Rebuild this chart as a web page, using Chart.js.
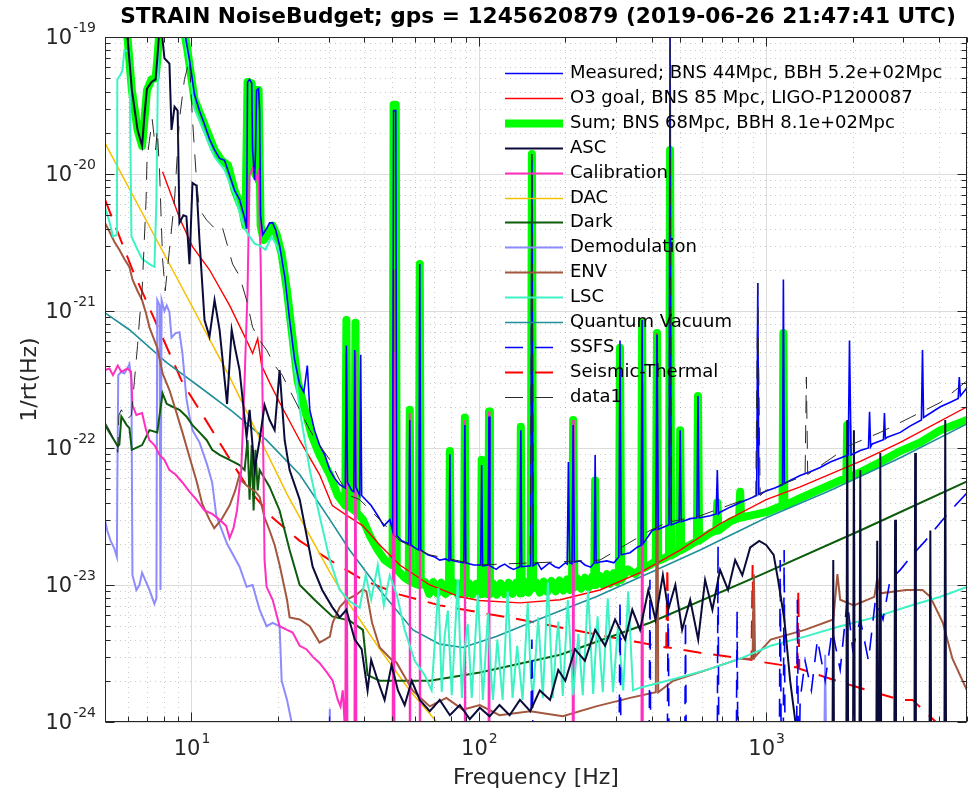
<!DOCTYPE html>
<html>
<head>
<meta charset="utf-8">
<title>STRAIN NoiseBudget</title>
<script src="https://cdn.jsdelivr.net/npm/chart.js@4.4.1/dist/chart.umd.min.js"></script>
<style>
  html, body { margin: 0; padding: 0; background: #fff; }
  canvas { display: block; }
</style>
</head>
<body>
<canvas id="noiseBudget" width="969" height="793"></canvas>
<script>
"use strict";

// axis decades that get a "10^n" label
var xTickExps = [1, 2, 3];
var yTickExps = [-24, -23, -22, -21, -20, -19];

// ---- strain ASD traces, 1/rt(Hz) ----
var measuredHz = [5, 7, 9, 9.45, 9.84, 10.24, 10.66, 11.1, 11.55, 12.03, 12.52, 13.03, 13.57, 14.12, 14.7, 15.3, 15.55, 15.67, 15.93, 16.2, 16.32, 16.58, 16.71, 16.85, 17.12, 17.26, 17.4, 17.68, 18.25, 18.7, 19.16, 19.63, 20.26, 21.1, 21.95, 22.85, 23.8, 24.6, 25.3, 25.8, 26.8, 27.9, 29.1, 30.3, 31.5, 32.8, 34.3, 34.6, 34.9, 36.1, 36.7, 37.0, 37.3, 38.5, 38.8, 39.1, 42.2, 44.5, 46.7, 49.0, 50.1, 50.5, 51.4, 51.8, 53.9, 57.0, 57.5, 58.0, 60.3, 61.8, 62.3, 62.8, 66.4, 70.3, 73.1, 76.7, 78.7, 79.3, 79.9, 84.5, 88.7, 89.4, 90.1, 96.0, 101.5, 102.3, 103.1, 107.7, 108.5, 109.3, 115, 118, 123, 128, 132, 139, 140, 141, 151.5, 153, 154.5, 160, 165, 176, 184, 190, 200, 203, 205, 207, 211, 213, 215, 225, 234, 245, 252, 254, 256, 264, 279, 295, 307, 310, 313, 336, 355, 367, 370, 373, 379, 401, 413, 417, 421, 449, 459, 463, 467, 478, 498, 502, 506, 520, 544, 574, 579, 584, 589, 638, 670, 676, 682, 691, 749, 812, 860, 927, 935, 943, 1000, 1071, 1140, 1148, 1157, 1212, 1313, 1423, 1542, 1671, 1930, 1950, 1975, 2126, 2270, 2290, 2310, 2340, 2560, 2580, 2600, 2640, 2930, 3175, 3470, 3500, 3530, 4040, 4377, 4660, 4700, 4743, 5000];
var measuredAsd = [3e-18, 1e-18, 2e-19, 1.1e-19, 6.8e-20, 3.8e-20, 2.9e-20, 2.3e-20, 1.8e-20, 1.5e-20, 1.3e-20, 1.26e-20, 9.8e-21, 7.6e-21, 6.5e-21, 4.8e-21, 4.0e-21, 4.7e-20, 4.9e-20, 4.6e-20, 1.5e-20, 9.0e-21, 1.5e-20, 4.1e-20, 4.2e-20, 2.9e-20, 5.0e-21, 3.6e-21, 4.0e-21, 4.4e-21, 4.4e-21, 3.9e-21, 3.0e-21, 1.8e-21, 8.6e-22, 4.4e-22, 2.9e-22, 2.55e-22, 4.0e-22, 1.9e-22, 1.35e-22, 1.05e-22, 8.9e-23, 6.9e-23, 6.0e-23, 5.4e-23, 5.1e-23, 5.6e-22, 5.6e-23, 4.9e-23, 4.8e-23, 5.2e-22, 5.2e-23, 4.5e-23, 4.8e-22, 4.5e-23, 3.8e-23, 3.2e-23, 2.7e-23, 3.0e-23, 2.5e-23, 2.9e-20, 2.9e-20, 2.3e-23, 2.1e-23, 2.0e-23, 1.6e-22, 1.96e-23, 1.85e-23, 1.8e-23, 2.2e-21, 1.8e-23, 1.66e-23, 1.6e-23, 1.52e-23, 1.55e-23, 1.5e-23, 9.0e-23, 1.52e-23, 1.48e-23, 1.45e-23, 1.47e-22, 1.45e-23, 1.4e-23, 1.4e-23, 7.5e-23, 1.38e-23, 1.4e-23, 1.7e-22, 1.38e-23, 1.3e-23, 1.36e-23, 1.42e-23, 1.34e-23, 1.3e-23, 1.36e-23, 1.35e-22, 1.36e-23, 1.38e-23, 1.26e-20, 1.38e-23, 1.45e-23, 1.3e-23, 1.45e-23, 1.36e-23, 1.33e-23, 1.45e-23, 1.42e-23, 7.9e-23, 1.45e-23, 1.43e-23, 1.47e-22, 1.47e-23, 1.5e-23, 1.4e-23, 1.35e-23, 1.45e-23, 8.9e-23, 1.45e-23, 1.47e-23, 1.5e-23, 1.45e-23, 1.6e-23, 6.1e-22, 1.66e-23, 1.72e-23, 1.88e-23, 1.95e-23, 8.6e-22, 2.0e-23, 2.1e-23, 2.5e-23, 2.55e-23, 6.7e-22, 2.55e-23, 2.7e-23, 2.75e-23, 1.5e-19, 2.75e-23, 2.8e-23, 2.9e-23, 1.35e-22, 2.9e-23, 2.95e-23, 3.05e-23, 3.1e-23, 2.4e-22, 3.1e-23, 3.1e-23, 3.2e-23, 3.3e-23, 6.9e-23, 3.3e-23, 3.4e-23, 3.7e-23, 4.0e-23, 4.2e-23, 4.5e-23, 1.6e-21, 4.6e-23, 4.85e-23, 5.1e-23, 5.4e-23, 1.7e-21, 5.5e-23, 5.8e-23, 6.3e-23, 6.7e-23, 7.2e-23, 7.9e-23, 8.9e-23, 6.1e-22, 8.9e-23, 9.6e-23, 1.0e-22, 1.84e-22, 1.02e-22, 1.07e-22, 1.15e-22, 1.8e-22, 1.17e-22, 1.2e-22, 1.3e-22, 1.45e-22, 1.6e-22, 5.2e-22, 1.67e-22, 2.0e-22, 2.16e-22, 2.3e-22, 3.3e-22, 2.4e-22, 2.75e-22];

var o3GoalHz = [7.93, 8.38, 9.08, 10.08, 11.55, 13.57, 15.67, 16.32, 17.0, 17.54, 18.7, 20.26, 23.8, 27.9, 30.9, 34.9, 39.5, 45.2, 53.1, 67.5, 85.9, 100, 139, 192, 264, 364, 502, 691, 1000, 1313, 2126, 2930, 5000];
var o3GoalAsd = [1.04e-20, 7.6e-21, 4.8e-21, 2.95e-21, 2.0e-21, 1.1e-21, 5.9e-22, 4.9e-22, 6.3e-22, 4.0e-22, 3.0e-22, 2.15e-22, 1.14e-22, 6.4e-23, 3.8e-23, 3.2e-23, 2.7e-23, 1.96e-23, 1.4e-23, 1.0e-23, 8.2e-24, 7.7e-24, 7.4e-24, 7.8e-24, 9.2e-24, 1.23e-23, 1.8e-23, 2.8e-23, 4.2e-23, 5.2e-23, 8.0e-23, 1.1e-22, 2.0e-22];

var sumHz = [5, 5.84, 6.0, 6.2, 6.49, 6.73, 6.86, 7.0, 7.26, 7.5, 7.6, 7.74, 8.38, 9.3, 9.68, 10.24, 11.1, 12.03, 12.7, 13.4, 14.12, 15.0, 15.4, 15.67, 16.2, 16.45, 16.71, 16.85, 17.12, 17.4, 17.82, 18.4, 19.16, 19.8, 20.6, 21.5, 22.3, 23.4, 24.8, 26.2, 27.9, 30.3, 32.3, 34.3, 34.6, 34.9, 36.9, 37.2, 37.5, 39.5, 41.7, 44.5, 47.0, 49.7, 50.1, 50.5, 51.4, 51.8, 55.2, 57.0, 57.5, 58.0, 61.8, 62.3, 62.8,
  65, 67.2, 69.4, 71.7, 74, 76.5, 78.7, 79.3, 79.9, 82, 84.5, 86.5, 88.7, 89.4, 90.1, 92.5, 95, 98, 101.5, 102.3, 103.1, 105.5, 107.7, 108.5, 109.3, 112, 115.5, 119, 123, 127, 131, 135, 139, 140, 141, 145, 149, 151.5, 153, 154.5, 158, 163, 168, 173, 179, 185, 191, 197, 203, 208, 211, 213, 215, 220, 227, 234, 241, 248, 252, 254, 256, 263, 271, 279, 286, 295, 302, 307, 310, 313, 330, 350, 367, 370, 373, 394,
  413, 417, 421, 445, 459, 463, 467, 498, 502, 506, 544, 574, 579, 584, 638, 670, 676, 682, 749, 805, 812, 818, 1000, 1140, 1148, 1157, 1313, 1810, 1900, 1915, 1930, 2496, 2930, 3440, 4040, 5000];
var sumAsd = [3e-19, 1.3e-19, 9.5e-20, 4.1e-20, 2.1e-20, 1.6e-20, 2.5e-20, 4.1e-20, 4.9e-20, 5.0e-20, 6.8e-20, 1.12e-19, 1.6e-19, 1.3e-19, 8.0e-20, 3.5e-20, 2.3e-20, 1.5e-20, 1.26e-20, 1.16e-20, 7.6e-21, 5.5e-21, 4.2e-21, 4.7e-20, 4.6e-20, 1.07e-20, 9.8e-21, 4.1e-20, 4.1e-20, 4.2e-21, 3.3e-21, 3.6e-21, 4.2e-21, 3.6e-21, 2.6e-21, 1.4e-21, 7.3e-22, 3.1e-22, 1.9e-22, 1.24e-22, 8.9e-23, 6.4e-23, 4.5e-23, 3.8e-23, 8.6e-22, 3.8e-23, 3.5e-23, 8.2e-22, 3.4e-23, 3.0e-23, 2.3e-23, 1.8e-23, 1.52e-23, 1.4e-23, 1.4e-23, 3.2e-20, 3.2e-20, 1.3e-23, 1.13e-23, 1.08e-23, 1.9e-22, 1.05e-23, 1.0e-23, 2.2e-21, 1.0e-23,
  1.05e-23, 8.6e-24, 1.05e-23, 8.7e-24, 1.04e-23, 8.6e-24, 1.0e-23, 9.5e-23, 9.0e-24, 1.04e-23, 8.5e-24, 1.03e-23, 8.6e-24, 1.67e-22, 8.6e-24, 1.03e-23, 8.5e-24, 1.02e-23, 8.6e-24, 8.2e-23, 8.6e-24, 1.02e-23, 8.6e-24, 1.85e-22, 8.6e-24, 1.03e-23, 8.5e-24, 1.03e-23, 8.6e-24, 1.04e-23, 8.6e-24, 1.04e-23, 8.7e-24, 1.43e-22, 8.7e-24, 1.05e-23, 8.8e-24, 9.5e-24, 1.4e-20, 9.5e-24, 1.05e-23, 8.8e-24, 1.06e-23, 8.9e-24, 1.07e-23, 9.0e-24, 1.08e-23, 9.1e-24, 1.1e-23, 9.2e-24, 9.6e-24, 1.6e-22, 9.6e-24, 1.12e-23, 9.4e-24, 1.13e-23, 9.6e-24, 1.15e-23, 1.0e-23, 5.8e-23, 1.0e-23, 1.17e-23, 1.0e-23, 1.2e-23, 1.02e-23, 1.22e-23, 1.05e-23, 1.09e-23, 5.4e-22, 1.09e-23, 1.3e-23, 1.2e-23, 1.32e-23, 8.2e-22, 1.32e-23, 1.4e-23,
  1.5e-23, 6.9e-22, 1.5e-23, 1.58e-23, 1.64e-23, 1.5e-20, 1.64e-23, 1.78e-23, 1.35e-22, 1.8e-23, 1.96e-23, 2.1e-23, 2.4e-22, 2.1e-23, 2.4e-23, 2.5e-23, 4.0e-23, 2.5e-23, 2.9e-23, 3.1e-23, 4.8e-23, 3.1e-23, 3.4e-23, 3.8e-23, 6.9e-22, 3.8e-23, 4.3e-23, 5.8e-23, 6.0e-23, 1.47e-22, 6.0e-23, 7.9e-23, 9.5e-23, 1.1e-22, 1.35e-22, 1.6e-22];

var ascHz = [5, 5.84, 6.0, 6.2, 6.49, 6.73, 6.86, 7.0, 7.26, 7.5, 7.6, 7.74, 7.87, 8.05, 8.38, 8.52, 8.73, 8.95, 9.08, 9.37, 9.6, 9.84, 10.08, 10.41, 10.66, 11.1, 11.55, 12.03, 12.52, 13.3, 13.8, 14.12, 14.7, 15.55, 15.93, 16.58, 17.26, 17.96, 18.7, 19.47, 20.26, 21.1, 21.95, 23.8, 26.4, 28.5, 30.9, 32.8, 34.6, 37.0, 39.1, 41.0, 42.2, 44.5, 47.0, 49.7, 52.3, 55.2, 58.4, 62.3, 67.5, 73.1, 79.3, 85.9, 93.0, 100.8, 109, 118, 128, 139, 151, 163, 177, 189, 200, 216, 234, 254, 275, 298, 323, 342, 364, 389, 412, 437, 456, 483, 510, 544, 580, 613, 650, 691, 737, 780, 826, 880, 946, 1000, 1062, 1100, 1157, 1212, 1274, 1400, 1700, 1712, 1724, 1900, 1915, 1930, 2005, 2020, 2035, 2110, 2126, 2142, 2415, 2435, 2455, 2480, 2496, 2515, 2790, 2810, 2830, 3280, 3300, 3320, 3700, 3727, 3755, 4170, 4200, 4230, 5000];
var ascAsd = [1.45e-19, 1.28e-19, 9.5e-20, 4.1e-20, 2.1e-20, 1.6e-20, 2.7e-20, 4.2e-20, 4.7e-20, 4.9e-20, 6.8e-20, 1.2e-19, 1.12e-19, 7.0e-20, 6.4e-20, 2.1e-20, 3.1e-20, 2.9e-20, 4.4e-21, 5.0e-21, 4.9e-21, 2.2e-21, 8.6e-21, 8.2e-21, 3.3e-21, 8.6e-22, 6.5e-22, 1.2e-21, 7.3e-22, 2.1e-22, 7.3e-22, 5.6e-22, 3.7e-22, 1.2e-22, 1.9e-22, 6.9e-23, 1.14e-22, 2.06e-22, 1.6e-22, 1.35e-22, 3.7e-22, 1.14e-22, 6.9e-23, 4.2e-23, 1.36e-23, 9.2e-24, 6.9e-24, 5.8e-24, 6.6e-24, 4.0e-24, 3.4e-24, 1.7e-24, 2.84e-24, 2.0e-24, 1.45e-24, 2.6e-24, 1.7e-24, 1.33e-24, 2.0e-24, 1.45e-24, 1.2e-24, 1.45e-24, 1.12e-24, 1.33e-24, 1.05e-24, 1.27e-24, 1.1e-24, 1.33e-24, 1.12e-24, 1.45e-24, 1.2e-24, 1.7e-24, 1.45e-24, 2.4e-24, 2.0e-24, 3.4e-24, 2.8e-24, 4.7e-24, 3.6e-24, 5.6e-24, 4.0e-24, 6.6e-24, 4.7e-24, 9.2e-24, 5.6e-24, 1.18e-23, 6.6e-24, 1.0e-23, 4.7e-24, 7.8e-24, 4.0e-24, 1.09e-23, 6.6e-24, 1.29e-23, 9.2e-24, 1.52e-23, 1.18e-23, 1.88e-23, 2.1e-23, 1.96e-23, 1.66e-23, 1.09e-23, 5.6e-24, 2.0e-24, 8.8e-25, 4e-25, 4e-25, 1.52e-23, 4e-25, 4e-25, 1.6e-22, 4e-25, 4e-25, 1.35e-22, 4e-25, 4e-25, 6.9e-23, 4e-25, 4e-25, 2.1e-23, 4e-25, 4e-25, 9.2e-23, 4e-25, 4e-25, 3.0e-23, 4e-25, 4e-25, 9.2e-23, 4e-25, 4e-25, 2.5e-23, 4e-25, 4e-25, 1.6e-22, 4e-25, 4e-25];

var calibrationHz = [5, 5.18, 5.33, 5.54, 5.7, 5.98, 6.16, 6.23, 6.43, 6.73, 6.95, 7.14, 7.43, 7.74, 8.05, 8.38, 8.8, 9.3, 9.84, 10.4, 11.1, 11.8, 12.52, 13.2, 13.57, 14.0, 14.4, 14.9, 15.3, 15.67, 15.93, 16.32, 16.71, 17.12, 17.4, 17.68, 17.96, 18.25, 19.16, 20.26, 21.5, 22.5, 23.8, 25.1, 26.4, 27.9, 29.6, 31.0, 32.3, 33.0, 33.6, 34.3, 34.6, 34.9, 36.9, 37.2, 37.5, 50.1, 50.5, 50.9, 57.2, 57.5, 57.8, 62.0, 62.3, 62.6, 89.0, 89.4, 89.8, 108.1, 108.5, 108.9, 212, 213, 214, 368, 370, 372, 5000];
var calibrationAsd = [3.7e-22, 3.8e-22, 3.4e-22, 4.0e-22, 3.6e-22, 3.8e-22, 3.6e-22, 2.06e-22, 1.74e-22, 1.8e-22, 1.35e-22, 1.14e-22, 1.05e-22, 8.9e-23, 8.2e-23, 6.9e-23, 6.4e-23, 5.6e-23, 4.8e-23, 4.2e-23, 3.5e-23, 3.3e-23, 3.0e-23, 2.7e-23, 2.2e-23, 2.6e-23, 3.5e-23, 6.9e-23, 3.1e-22, 1.4e-21, 9.8e-21, 1.1e-20, 9.0e-21, 1.04e-20, 2.4e-21, 2.2e-22, 1.52e-23, 9.7e-24, 7.8e-24, 5.0e-24, 4.7e-24, 4.5e-24, 3.6e-24, 3.4e-24, 3.0e-24, 2.7e-24, 2.3e-24, 2.0e-24, 1.45e-24, 1.3e-24, 1.7e-24, 8e-25, 5.0e-22, 6e-25, 5e-25, 5.0e-22, 5e-25, 4e-25, 5e-22, 4e-25, 4e-25, 1.8e-22, 4e-25, 4e-25, 1.5e-22, 4e-25, 4e-25, 1.6e-22, 4e-25, 4e-25, 1.85e-22, 4e-25, 4e-25, 1.6e-22, 4e-25, 4e-25, 3.0e-22, 4e-25, 4e-25];

var dacHz = [5, 8.59, 13.57, 21.5, 30.3, 34.6, 45.2, 57.5, 71.4, 93];
var dacAsd = [1.68e-20, 2.0e-21, 3.3e-22, 4.6e-23, 1.24e-23, 7.8e-24, 3.4e-24, 1.7e-24, 1.0e-24, 5.5e-25];

var darkHz = [5, 5.18, 5.54, 5.61, 5.7, 5.95, 6.08, 6.2, 6.73, 7.14, 7.6, 7.93, 8.2, 8.59, 9.08, 9.6, 10.08, 10.66, 11.3, 11.8, 12.52, 13.57, 14.7, 15.3, 15.67, 15.93, 16.2, 16.45, 16.7, 17.0, 17.26, 18.7, 20.26, 21.95, 23.8, 26.8, 30.9, 35.5, 39.5, 41.0, 45.2, 67.5, 100.8, 192, 394, 953, 2126, 5000];
var darkAsd = [1.47e-22, 1.3e-22, 1.03e-22, 1.06e-22, 1.7e-22, 1.47e-22, 1.4e-22, 9.7e-23, 1.05e-22, 1.35e-22, 1.3e-22, 2.5e-22, 2.1e-22, 2.0e-22, 1.9e-22, 1.7e-22, 1.47e-22, 1.3e-22, 1.14e-22, 9.7e-23, 8.9e-23, 8.2e-23, 7.5e-23, 6.9e-23, 1.14e-22, 4.2e-23, 1.05e-22, 3.5e-23, 9.7e-23, 4.9e-23, 6.9e-23, 5.2e-23, 3.5e-23, 1.8e-23, 1.0e-23, 7.8e-24, 5.9e-24, 5.5e-24, 4.7e-24, 2.2e-24, 2.0e-24, 2.0e-24, 2.3e-24, 3.1e-24, 5.3e-24, 1.18e-23, 2.5e-23, 5.7e-23];

var demodHz = [5, 5.09, 5.23, 5.38, 5.5, 5.52, 5.56, 5.7, 5.84, 5.98, 6.08, 6.18, 6.23, 6.43, 6.59, 6.73, 6.95, 7.14, 7.43, 7.55, 7.6, 7.74, 7.8, 7.87, 8.05, 8.2, 8.38, 8.52, 8.8, 9.08, 9.3, 9.6, 9.84, 10.08, 10.66, 11.3, 11.8, 12.2, 13.3, 14.7, 15.55, 16.32, 17.26, 18.25, 19.16, 20.26, 20.6, 21.5, 22.3, 23.2, 30.0, 30.3, 30.6, 1590, 1605, 1620, 5000];
var demodAsd = [3.0e-23, 2.5e-23, 2.1e-23, 1.86e-23, 1.6e-23, 5.8e-23, 3.4e-22, 3.6e-22, 3.5e-22, 3.8e-22, 4.1e-22, 3.1e-22, 1.18e-23, 9.2e-24, 1.0e-23, 1.23e-23, 1.05e-23, 9.2e-24, 7.3e-24, 8.0e-24, 1.2e-21, 1.1e-21, 9.2e-24, 1.2e-21, 1.0e-21, 1.1e-21, 9.8e-22, 6.4e-22, 6.9e-22, 7.0e-22, 4.9e-22, 2.3e-22, 1.7e-22, 1.35e-22, 1.1e-22, 7.7e-23, 5.6e-23, 3.2e-23, 2.0e-23, 1.36e-23, 9.7e-24, 1.0e-23, 6.6e-24, 5.0e-24, 5.3e-24, 5.0e-24, 2.0e-24, 1.45e-24, 1.0e-24, 5.2e-25, 4e-25, 1.25e-24, 4e-25, 4e-25, 3.1e-24, 4e-25, 4e-25];

var envHz = [5, 5.18, 5.39, 5.61, 5.84, 6.08, 6.23, 6.49, 6.73, 6.95, 7.14, 7.6, 7.93, 8.38, 8.8, 9.3, 9.84, 10.4, 10.9, 11.55, 12.0, 12.7, 13.57, 14.2, 14.7, 15.0, 15.93, 16.7, 17.26, 17.96, 18.7, 19.47, 20.26, 21.5, 21.95, 23.8, 25.8, 27.9, 30.3, 31.0, 32.8, 34.6, 37.5, 39.5, 40.6, 42.5, 45.2, 50.1, 50.5, 50.9, 51.8, 58.8, 67.5, 77.1, 88.0, 100.8, 118, 151, 196, 256, 336, 413, 417, 421, 475, 622, 812, 897, 906, 915, 1037, 1363, 1712, 1770, 1810, 2020, 2380, 2435, 2496, 3070, 3500, 3727, 4120, 4450, 5000];
var envAsd = [4.4e-21, 3.8e-21, 3.2e-21, 2.8e-21, 2.4e-21, 2.1e-21, 1.7e-21, 1.4e-21, 1.2e-21, 9.6e-22, 7.6e-22, 5.4e-22, 3.5e-22, 2.65e-22, 1.9e-22, 1.3e-22, 8.6e-23, 5.8e-23, 3.9e-23, 3.0e-23, 2.6e-23, 3.0e-23, 3.8e-23, 4.9e-23, 6.4e-23, 5.7e-23, 5.1e-23, 4.8e-23, 4.4e-23, 3.1e-23, 2.5e-23, 1.96e-23, 1.4e-23, 7.8e-24, 5.8e-24, 5.6e-24, 5.0e-24, 3.8e-24, 4.2e-24, 5.3e-24, 6.9e-24, 7.8e-24, 8.5e-24, 9.3e-24, 9.0e-24, 5.3e-24, 3.5e-24, 2.8e-24, 2.0e-21, 2.8e-24, 2.7e-24, 1.7e-24, 1.3e-24, 1.5e-24, 1.23e-24, 1.33e-24, 1.12e-24, 1.2e-24, 1.1e-24, 1.3e-24, 1.5e-24, 1.65e-24, 6.9e-22, 1.65e-24, 2.0e-24, 2.4e-24, 2.9e-24, 2.9e-24, 1.2e-23, 3.0e-24, 4.0e-24, 4.7e-24, 5.6e-24, 1.2e-23, 7.8e-24, 7.1e-24, 8.2e-24, 1.12e-23, 8.7e-24, 9.2e-24, 9.2e-24, 8.2e-24, 5.3e-24, 2.9e-24, 1.7e-24];

var lscHz = [5, 5.18, 5.33, 5.5, 5.52, 5.66, 5.75, 5.84, 6.08, 6.18, 6.49, 6.73, 7.14, 7.43, 7.55, 7.67, 8.05, 9.08, 9.45, 9.84, 10.24, 11.1, 12.03, 13.03, 14.12, 15.3, 15.93, 16.58, 17.26, 18.1, 19.0, 20.0, 20.9, 21.95, 23.8, 25.8, 27.9, 30.3, 32.8, 35.5, 38.5, 40.4, 42.2, 44.5, 46.7, 49.0, 51.8, 55.2, 59.8, 64.8, 68.5,
  72.3, 74.3, 76, 78.0, 80.5, 84.5, 87.3, 89.5, 91.5, 94.5, 99.2, 103.3, 107.6, 110, 112, 116, 121, 126, 131, 136, 142, 148, 151, 154, 161, 167, 174, 181, 185, 189, 196, 204, 213, 222, 230, 240, 250, 259, 265, 270, 281, 293, 305, 318, 331, 344,
  364, 478, 622, 812, 1037, 1363, 1810, 2380, 3070, 4040, 5000];
var lscAsd = [5.7e-21, 4.5e-21, 3.5e-21, 3.6e-21, 4.9e-20, 5.3e-20, 5.7e-20, 8.0e-20, 7.8e-20, 3.5e-21, 2.8e-21, 2.4e-21, 2.2e-21, 2.1e-21, 6.5e-21, 1.12e-19, 1.45e-19, 1.45e-19, 1.03e-19, 5.9e-20, 3.0e-20, 2.0e-20, 1.33e-20, 1.07e-20, 7.0e-21, 4.0e-21, 3.5e-21, 3.1e-21, 3.0e-21, 2.8e-21, 3.5e-21, 2.9e-21, 2.1e-21, 7.9e-22, 1.9e-22, 6.9e-23, 3.2e-23, 1.52e-23, 9.2e-24, 7.6e-24, 6.8e-24, 1.18e-23, 7.8e-24, 1.4e-23, 7.1e-24, 1.18e-23, 8.5e-24, 4.7e-24, 2.8e-24, 2.2e-24, 1.7e-24,
  9.5e-24, 1.66e-24, 4.2e-24, 6.5e-24, 1.57e-24, 1.1e-23, 1.5e-24, 3.6e-24, 5.2e-24, 1.5e-24, 8.5e-24, 1.45e-24, 6.2e-24, 2.4e-24, 1.45e-24, 4.0e-24, 1.45e-24, 9.0e-24, 1.5e-24, 3.6e-24, 1.45e-24, 7.4e-24, 2.6e-24, 1.45e-24, 5.8e-24, 1.5e-24, 1.05e-23, 1.5e-24, 3.2e-24, 5.4e-24, 1.55e-24, 7.8e-24, 1.57e-24, 4.4e-24, 1.57e-24, 9.2e-24, 1.6e-24, 5.9e-24, 2.8e-24, 1.65e-24, 8.0e-24, 1.65e-24, 5.0e-24, 1.7e-24, 9.0e-24, 1.7e-24,
  1.78e-24, 2.06e-24, 2.4e-24, 2.9e-24, 3.6e-24, 4.2e-24, 5.0e-24, 5.8e-24, 6.9e-24, 8.2e-24, 9.7e-24];

var quantumHz = [5, 6.08, 8.2, 10.66, 13.9, 18.25, 23.8, 30.3, 35.5, 45.2, 59.0, 73.1, 88.0, 115, 151, 196, 256, 394, 589, 1000, 1671, 2930, 5000];
var quantumAsd = [9.7e-22, 7.3e-22, 4.2e-22, 2.8e-22, 1.84e-22, 1.14e-22, 6.4e-23, 3.0e-23, 1.8e-23, 9.2e-24, 4.7e-24, 3.7e-24, 3.5e-24, 4.2e-24, 5.3e-24, 6.6e-24, 8.2e-24, 1.23e-23, 1.8e-23, 3.1e-23, 4.9e-23, 8.5e-23, 1.5e-22];

var ssfsHz = [5, 151, 153, 155, 307, 310, 313, 391, 394, 397, 452, 456, 460, 520, 524, 528, 675, 680, 685, 786, 792, 798, 1110, 1119, 1130, 1145, 1155, 1165, 1274, 1284, 1298, 1313, 1366, 1437, 1508, 1605, 1698, 1810, 1915, 2000, 2126, 2270, 2400, 2550, 2700, 2930, 3230, 3580, 3950, 4330, 5000];
var ssfsAsd = [3e-25, 3e-25, 4.0e-24, 3e-25, 3e-25, 7.8e-24, 3e-25, 3e-25, 1.09e-23, 3e-25, 3e-25, 9.2e-24, 3e-25, 3e-25, 5.6e-24, 3e-25, 3e-25, 1.96e-23, 3e-25, 3e-25, 6.6e-24, 3e-25, 3e-25, 1.52e-23, 3e-25, 3e-25, 1.8e-23, 3e-25, 3e-25, 7.8e-24, 3e-25, 1.45e-24, 2.8e-24, 1.7e-24, 4.0e-24, 2.0e-24, 4.7e-24, 2.4e-24, 7.8e-24, 3.4e-24, 5.6e-24, 2.8e-24, 7.8e-24, 5.6e-24, 1.09e-23, 1.29e-23, 1.66e-23, 2.1e-23, 2.7e-23, 3.4e-23, 4.7e-23];

var seismicHz = [5, 6.23, 7.93, 9.3, 10.66, 12.2, 13.9, 15.93, 19.16, 23.8, 30.3, 39.5, 53.1, 73.1, 100.8, 139, 192, 264, 364, 449, 453, 456, 589, 889, 897, 906, 1284, 1294, 1304, 1962, 2930, 3230, 3800, 4377, 5000];
var seismicAsd = [6.5e-21, 2.0e-21, 6.4e-22, 3.0e-22, 1.9e-22, 1.2e-22, 7.7e-23, 4.9e-23, 3.1e-23, 2.1e-23, 1.52e-23, 1.09e-23, 8.5e-24, 7.1e-24, 6.3e-24, 5.6e-24, 4.9e-24, 4.3e-24, 3.8e-24, 3.5e-24, 1.36e-23, 3.5e-24, 3.2e-24, 2.84e-24, 1.4e-23, 2.8e-24, 2.5e-24, 9.2e-24, 2.45e-24, 1.86e-24, 1.45e-24, 1.45e-24, 1.05e-24, 8.0e-25, 6.2e-25];

var data1Hz = [5, 5.18, 5.38, 5.54, 5.59, 5.7, 5.94, 6.18, 6.33, 6.49, 6.59, 6.73, 6.95, 7.0, 7.14, 7.3, 7.5, 7.6, 7.74, 7.93, 8.1, 8.38, 8.73, 9.08, 9.45, 9.84, 10.08, 10.41, 10.66, 11.3, 12.2, 12.8, 13.9, 14.7, 15.55, 16.32, 17.26, 18.25, 19.47, 20.7, 21.95, 23.8, 25.8, 27.9, 30.3, 32.8, 35.5, 38.5, 45.2, 53.1, 67.5, 100, 151, 153, 155, 264, 394, 459, 463, 467, 589, 920, 935, 953, 1000, 1366, 1380, 1395, 1962, 2496, 3175, 4040, 5000];
var data1Asd = [1.54e-22, 1.35e-22, 1.14e-22, 9.3e-23, 1.74e-22, 1.9e-22, 1.6e-22, 1.74e-22, 3.1e-22, 5.6e-22, 8.6e-22, 1.4e-21, 6.5e-21, 1.26e-20, 1.77e-20, 2.5e-20, 1.5e-20, 2.1e-20, 1.07e-20, 2.4e-21, 1.4e-21, 2.8e-21, 6.5e-21, 2.5e-20, 4.9e-20, 6.8e-20, 2.5e-20, 9.0e-21, 5.5e-21, 4.6e-21, 3.9e-21, 4.1e-21, 2.2e-21, 1.8e-21, 1.2e-21, 7.6e-22, 6.1e-22, 5.2e-22, 4.0e-22, 3.4e-22, 2.65e-22, 1.9e-22, 1.35e-22, 1.05e-22, 8.2e-23, 5.8e-23, 4.5e-23, 4.2e-23, 3.0e-23, 2.1e-23, 1.66e-23, 1.4e-23, 1.45e-23, 1.4e-20, 1.45e-23, 1.52e-23, 2.5e-23, 2.9e-23, 1.0e-19, 2.9e-23, 3.2e-23, 4.5e-23, 1.6e-21, 4.5e-23, 4.9e-23, 6.3e-23, 3.3e-22, 6.4e-23, 1.05e-22, 1.3e-22, 1.67e-22, 2.15e-22, 3.1e-22];

// legend order; lower "order" is painted on top
var traces = [
  { label: 'Measured; BNS 44Mpc, BBH 5.2e+02Mpc', hz: measuredHz, asd: measuredAsd, color: '#0000ff', width: 1.6, order: 1 },
  { label: 'O3 goal, BNS 85 Mpc, LIGO-P1200087', hz: o3GoalHz, asd: o3GoalAsd, color: '#ff0000', width: 1.4, order: 14 },
  { label: 'Sum; BNS 68Mpc, BBH 8.1e+02Mpc', hz: sumHz, asd: sumAsd, color: '#00ff00', width: 8, order: 20 },
  { label: 'ASC', hz: ascHz, asd: ascAsd, color: '#0b0b3a', width: 2, order: 3 },
  { label: 'Calibration', hz: calibrationHz, asd: calibrationAsd, color: '#ff2fc0', width: 2, order: 6 },
  { label: 'DAC', hz: dacHz, asd: dacAsd, color: '#f5c000', width: 1.5, order: 9 },
  { label: 'Dark', hz: darkHz, asd: darkAsd, color: '#0c5c0c', width: 2, order: 8 },
  { label: 'Demodulation', hz: demodHz, asd: demodAsd, color: '#8c8cff', width: 2, order: 10 },
  { label: 'ENV', hz: envHz, asd: envAsd, color: '#a3573f', width: 2, order: 7 },
  { label: 'LSC', hz: lscHz, asd: lscAsd, color: '#3ef2c5', width: 2, order: 5 },
  { label: 'Quantum Vacuum', hz: quantumHz, asd: quantumAsd, color: '#1f8f9a', width: 1.6, order: 11 },
  { label: 'SSFS', hz: ssfsHz, asd: ssfsAsd, color: '#0000ff', width: 1.6, dash: [18, 12], order: 4 },
  { label: 'Seismic-Thermal', hz: seismicHz, asd: seismicAsd, color: '#ff0000', width: 2, dash: [18, 12], order: 12 },
  { label: 'data1', hz: data1Hz, asd: data1Asd, color: '#2b2b2b', width: 1, dash: [18, 12], order: 0 }
];

function toPoints(hz, asd) {
  return hz.map(function (f, i) { return { x: f, y: asd[i] }; });
}

var FONT = '"DejaVu Sans", "Liberation Sans", sans-serif';
var AXIS_COLOR = '#262626';

// "10" with a raised exponent, anchored on the right or centred
function powerLabel(ctx, exp, x, y, align) {
  var base = '10', sup = String(exp);
  ctx.font = '21px ' + FONT;
  var wb = ctx.measureText(base).width;
  ctx.font = '14px ' + FONT;
  var ws = ctx.measureText(sup).width;
  var left = align === 'right' ? x - wb - ws : x - (wb + ws) / 2;
  ctx.textAlign = 'left';
  ctx.textBaseline = 'middle';
  ctx.font = '21px ' + FONT;
  ctx.fillText(base, left, y + 2);
  ctx.font = '14px ' + FONT;
  ctx.fillText(sup, left + wb + 1, y - 9);
}

function decadeValues(min, max) {
  var out = [];
  for (var d = Math.floor(Math.log10(min)); d <= Math.ceil(Math.log10(max)); d++) {
    for (var m = 1; m <= 9; m++) {
      var v = m * Math.pow(10, d);
      if (v >= min * 0.9999 && v <= max * 1.0001) out.push({ v: v, major: m === 1 });
    }
  }
  return out;
}

var matlabAxes = {
  id: 'matlabAxes',
  beforeDatasetsDraw: function (chart) {
    var ctx = chart.ctx, a = chart.chartArea, sx = chart.scales.x, sy = chart.scales.y;
    ctx.save();
    ctx.lineWidth = 1;
    // minor grid, dotted
    ctx.strokeStyle = 'rgba(0,0,0,0.2)';
    ctx.setLineDash([1, 4]);
    decadeValues(sx.min, sx.max).forEach(function (t) {
      if (t.major) return;
      var px = Math.round(sx.getPixelForValue(t.v)) + 0.5;
      ctx.beginPath(); ctx.moveTo(px, a.top); ctx.lineTo(px, a.bottom); ctx.stroke();
    });
    decadeValues(sy.min, sy.max).forEach(function (t) {
      if (t.major) return;
      var py = Math.round(sy.getPixelForValue(t.v)) + 0.5;
      ctx.beginPath(); ctx.moveTo(a.left, py); ctx.lineTo(a.right, py); ctx.stroke();
    });
    // major grid, solid light grey
    ctx.setLineDash([]);
    ctx.strokeStyle = '#dcdcdc';
    decadeValues(sx.min, sx.max).forEach(function (t) {
      if (!t.major) return;
      var px = Math.round(sx.getPixelForValue(t.v)) + 0.5;
      ctx.beginPath(); ctx.moveTo(px, a.top); ctx.lineTo(px, a.bottom); ctx.stroke();
    });
    decadeValues(sy.min, sy.max).forEach(function (t) {
      if (!t.major) return;
      var py = Math.round(sy.getPixelForValue(t.v)) + 0.5;
      ctx.beginPath(); ctx.moveTo(a.left, py); ctx.lineTo(a.right, py); ctx.stroke();
    });
    ctx.restore();
  },
  afterDatasetsDraw: function (chart) {
    var ctx = chart.ctx, a = chart.chartArea, sx = chart.scales.x, sy = chart.scales.y;
    ctx.save();
    ctx.strokeStyle = AXIS_COLOR;
    ctx.fillStyle = AXIS_COLOR;
    ctx.lineWidth = 1;
    ctx.setLineDash([]);
    var L = Math.round(a.left) + 0.5, R = Math.round(a.right) - 0.5;
    var T = Math.round(a.top) + 0.5, B = Math.round(a.bottom) - 0.5;
    ctx.strokeRect(L, T, R - L, B - T);

    // inward ticks on all four sides
    decadeValues(sx.min, sx.max).forEach(function (t) {
      var px = Math.round(sx.getPixelForValue(t.v)) + 0.5;
      var len = t.major ? 9 : 5;
      ctx.beginPath();
      ctx.moveTo(px, B); ctx.lineTo(px, B - len);
      ctx.moveTo(px, T); ctx.lineTo(px, T + len);
      ctx.stroke();
    });
    decadeValues(sy.min, sy.max).forEach(function (t) {
      var py = Math.round(sy.getPixelForValue(t.v)) + 0.5;
      var len = t.major ? 9 : 5;
      ctx.beginPath();
      ctx.moveTo(L, py); ctx.lineTo(L + len, py);
      ctx.moveTo(R, py); ctx.lineTo(R - len, py);
      ctx.stroke();
    });

    // tick labels
    xTickExps.forEach(function (e) {
      powerLabel(ctx, e, sx.getPixelForValue(Math.pow(10, e)), a.bottom + 26, 'center');
    });
    yTickExps.forEach(function (e) {
      powerLabel(ctx, e, a.left - 10, sy.getPixelForValue(Math.pow(10, e)), 'right');
    });

    // axis titles
    ctx.textAlign = 'center';
    ctx.textBaseline = 'middle';
    ctx.font = '22px ' + FONT;
    ctx.fillText('Frequency [Hz]', (a.left + a.right) / 2, a.bottom + 56);
    ctx.save();
    ctx.translate(30, (a.top + a.bottom) / 2);
    ctx.rotate(-Math.PI / 2);
    ctx.fillText('1/rt(Hz)', 0, 0);
    ctx.restore();

    // title
    ctx.fillStyle = '#000';
    ctx.font = 'bold 21.7px ' + FONT;
    ctx.fillText('STRAIN NoiseBudget; gps = 1245620879 (2019-06-26 21:47:41 UTC)', (a.left + a.right) / 2 + 2, 17);

    // legend, drawn straight onto the plot without a frame
    var lx = a.left + 400, ly = a.top + 36, step = 24.9;
    ctx.textAlign = 'left';
    ctx.font = '18px ' + FONT;
    traces.forEach(function (tr, i) {
      var y = Math.round(ly + i * step) + 0.5;
      ctx.strokeStyle = tr.color;
      ctx.lineWidth = tr.width;
      ctx.setLineDash(tr.dash || []);
      ctx.lineCap = 'butt';
      ctx.beginPath(); ctx.moveTo(lx, y); ctx.lineTo(lx + 58, y); ctx.stroke();
      ctx.setLineDash([]);
      ctx.fillStyle = '#000';
      ctx.fillText(tr.label, lx + 65, y);
    });
    ctx.restore();
  }
};

var ctx = document.getElementById('noiseBudget');

var myChart = new Chart(ctx, {
  type: 'line',
  data: {
    datasets: traces.map(function (tr) {
      var thick = tr.width > 4;
      return {
        label: tr.label,
        data: toPoints(tr.hz, tr.asd),
        borderColor: tr.color,
        borderWidth: tr.width,
        borderDash: tr.dash || [],
        borderJoinStyle: thick ? 'round' : 'miter',
        borderCapStyle: thick ? 'round' : 'butt',
        pointRadius: 0,
        tension: 0,
        fill: false,
        clip: 0,
        order: tr.order
      };
    })
  },
  options: {
    responsive: false,
    animation: false,
    events: [],
    layout: { padding: { left: 105, right: 2, top: 37, bottom: 71 } },
    plugins: {
      legend: { display: false },
      tooltip: { enabled: false },
      title: { display: false }
    },
    scales: {
      x: {
        type: 'logarithmic', min: 5, max: 5000,
        grid: { display: false }, border: { display: false },
        ticks: { display: false },
        afterFit: function (s) { s.height = 0; }
      },
      y: {
        type: 'logarithmic', min: 1e-24, max: 1e-19,
        grid: { display: false }, border: { display: false },
        ticks: { display: false },
        afterFit: function (s) { s.width = 0; }
      }
    }
  },
  plugins: [matlabAxes]
});
</script>
</body>
</html>
